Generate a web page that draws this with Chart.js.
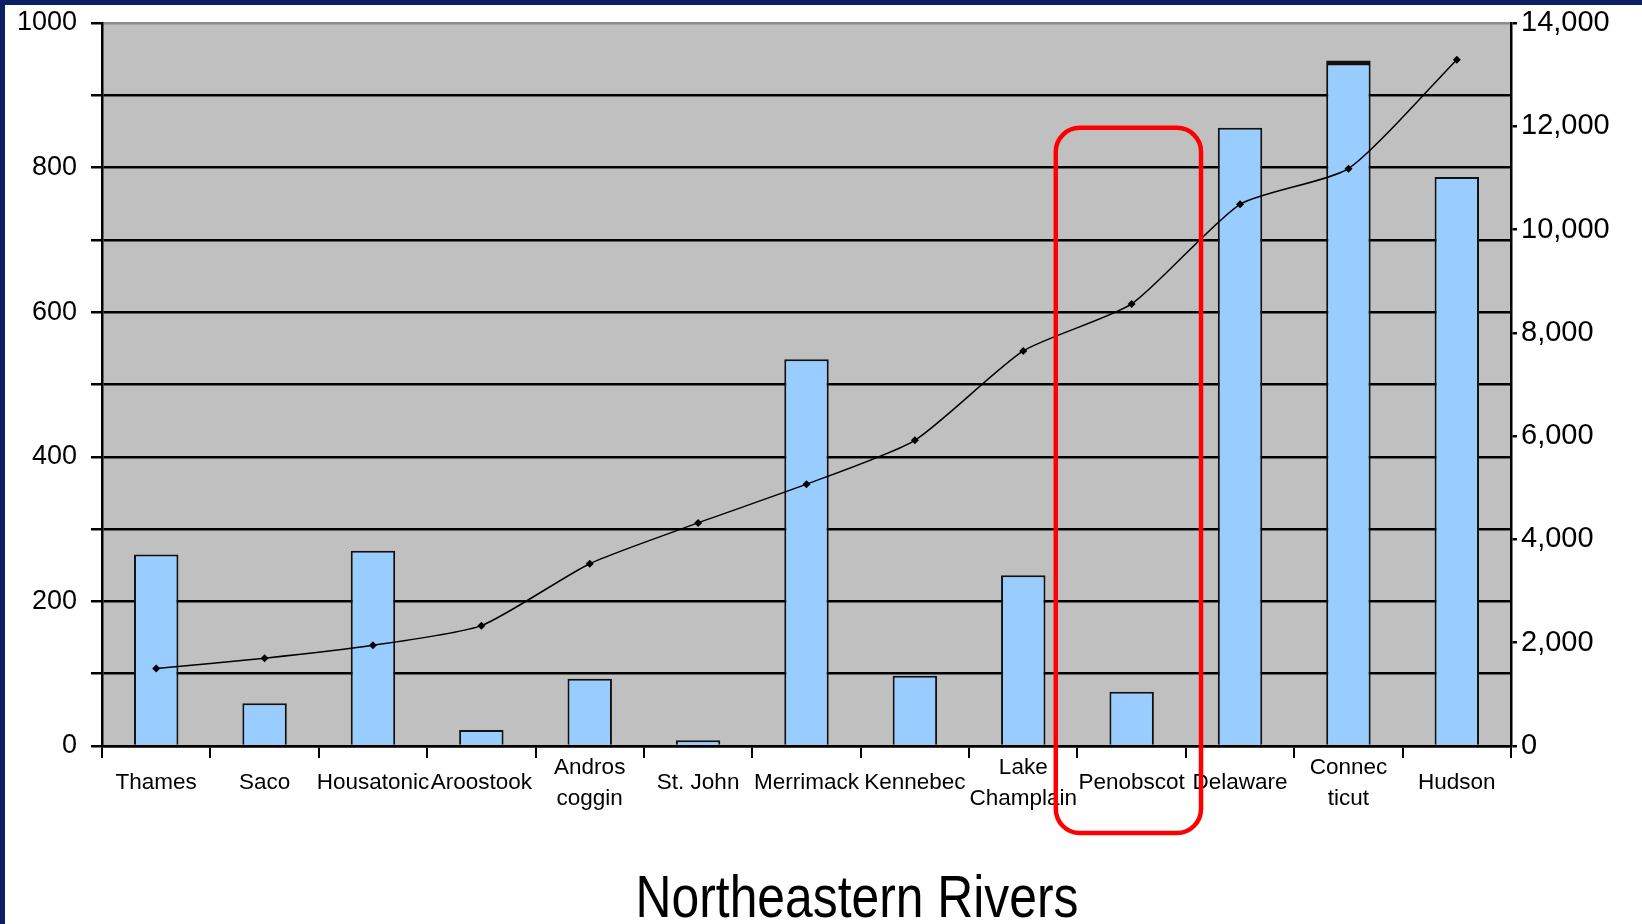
<!DOCTYPE html>
<html>
<head>
<meta charset="utf-8">
<script src="https://cdn.jsdelivr.net/npm/chart.js@4.4.1/dist/chart.umd.min.js"></script>
<style>
  html, body { margin: 0; padding: 0; background: #ffffff; }
  #wrap { position: relative; width: 1642px; height: 924px; overflow: hidden; }
  #frameTop { position: absolute; left: 0; top: 0; width: 1642px; height: 5px; background: #0a2064; }
  #frameLeft { position: absolute; left: 0; top: 0; width: 5px; height: 924px; background: #0a2064; }
  canvas { position: absolute; left: 0; top: 0; }
</style>
</head>
<body>
<div id="wrap">
  <canvas id="c" width="1642" height="924"></canvas>
  <div id="frameTop"></div>
  <div id="frameLeft"></div>
</div>
<script>
// ---- data ----
const categories = ['Thames', 'Saco', 'Housatonic', 'Aroostook', ['Andros', 'coggin'], 'St. John',
  'Merrimack', 'Kennebec', ['Lake', 'Champlain'], 'Penobscot', 'Delaware', ['Connec', 'ticut'], 'Hudson'];
const barValues = [265, 59, 270, 22, 93, 8, 535, 97, 236, 75, 855, 948, 787];
const lineValues = [1500, 1700, 1950, 2330, 3530, 4320, 5070, 5920, 7650, 8560, 10490, 11180, 13290];
const leftTicks = [0, 200, 400, 600, 800, 1000];
const rightTicks = [0, 2000, 4000, 6000, 8000, 10000, 12000, 14000];
const titleText = 'Northeastern Rivers';
const highlightIndex = 9; // Penobscot

const FONT = "'Liberation Sans', Arial, sans-serif";

const bgPlugin = {
  id: 'plotBg',
  beforeDraw(chart) {
    const { ctx, chartArea: a } = chart;
    ctx.save();
    ctx.fillStyle = '#c0c0c0';
    ctx.fillRect(a.left, a.top, a.right - a.left, a.bottom - a.top);
    ctx.restore();
  },
  afterDraw(chart) {
    const { ctx, chartArea: a } = chart;
    const xs = chart.scales.x;
    const ys = chart.scales.y;
    const cw = xs.getPixelForValue(1) - xs.getPixelForValue(0);
    const cx = xs.getPixelForValue(highlightIndex);
    const left = cx - 0.70 * cw;
    const right = cx + 0.64 * cw;
    const top = ys.getPixelForValue(855);
    const bottom = a.bottom + 87;
    ctx.save();
    ctx.strokeStyle = '#ff0000';
    ctx.lineWidth = 4.5;
    ctx.beginPath();
    ctx.roundRect(left, top, right - left, bottom - top, 24);
    ctx.stroke();
    ctx.restore();
    // title (condensed, like the original)
    ctx.save();
    ctx.fillStyle = '#000';
    ctx.font = '60px ' + FONT;
    ctx.textAlign = 'center';
    ctx.textBaseline = 'alphabetic';
    const sx = 0.83;
    ctx.scale(sx, 1);
    ctx.fillText(titleText, 857 / sx, 917);
    ctx.restore();
  }
};

function noPad(s) { s.paddingTop = 0; s.paddingBottom = 0; }

new Chart(document.getElementById('c'), {
  type: 'bar',
  data: {
    labels: categories,
    datasets: [
      {
        type: 'line',
        data: lineValues,
        yAxisID: 'y2',
        borderColor: '#000',
        borderWidth: 1.5,
        pointStyle: 'rectRot',
        pointRadius: 4,
        pointBackgroundColor: '#000',
        pointBorderColor: '#000',
        pointBorderWidth: 0,
        tension: 0.2,
        order: 0
      },
      {
        type: 'bar',
        data: barValues,
        yAxisID: 'y',
        backgroundColor: '#99ccff',
        borderColor: '#111',
        borderWidth: (c) => c.dataIndex === 11 ? { top: 5, left: 2, right: 2, bottom: 0 } : 2,
        borderSkipped: 'bottom',
        categoryPercentage: 1,
        barPercentage: 0.41,
        order: 1
      }
    ]
  },
  options: {
    responsive: false,
    animation: false,
    layout: { padding: { top: 23, left: 0, right: 0, bottom: 0 } },
    plugins: {
      legend: { display: false },
      title: { display: false },
      tooltip: { enabled: false }
    },
    scales: {
      x: {
        offset: true,
        grid: { offset: true, drawOnChartArea: false, color: '#000', lineWidth: 2, tickLength: 12 },
        border: { color: '#000', width: 2.5 },
        ticks: {
          color: '#000', font: { family: FONT, size: 22.5, lineHeight: 1.35 },
          maxRotation: 0, minRotation: 0, autoSkip: false, padding: 10, crossAlign: 'center'
        },
        afterFit(s) { s.height = 178; }
      },
      y: {
        position: 'left',
        min: 0, max: 1000,
        afterBuildTicks(s) {
          const t = [];
          for (let v = 0; v <= 1000; v += 100) t.push({ value: v });
          s.ticks = t;
        },
        grid: {
          color: (c) => c.tick && c.tick.value === 1000 ? '#8c8c8c' : '#000',
          lineWidth: 2.5, tickLength: 11, tickColor: '#000'
        },
        border: { color: '#000', width: 2.5 },
        ticks: {
          color: '#000', font: { family: FONT, size: 27 }, padding: 14,
          callback: (v) => leftTicks.includes(v) ? String(v) : ''
        },
        afterFit(s) { s.width = 102; noPad(s); }
      },
      y2: {
        position: 'right',
        min: 0, max: 14000,
        afterBuildTicks(s) { s.ticks = rightTicks.map(v => ({ value: v })); },
        grid: { drawOnChartArea: false, color: '#000', lineWidth: 2.5, tickLength: 6 },
        border: { color: '#000', width: 2.5 },
        ticks: {
          color: '#000', font: { family: FONT, size: 29 }, padding: 4,
          callback: (v) => v.toLocaleString('en-US')
        },
        afterFit(s) { s.width = 131; noPad(s); }
      }
    }
  },
  plugins: [bgPlugin]
});
</script>
</body>
</html>
